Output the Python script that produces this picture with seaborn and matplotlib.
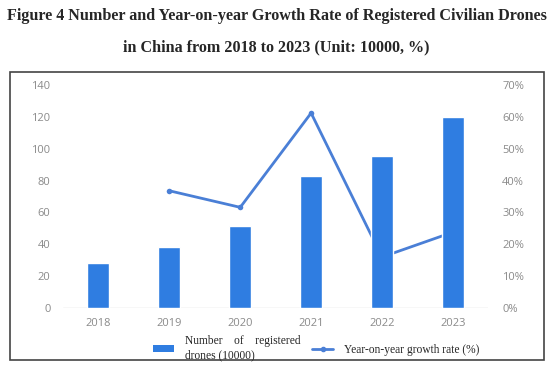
import numpy as np
import pandas as pd
import matplotlib
matplotlib.use("Agg")
import matplotlib.pyplot as plt
import seaborn as sns
from matplotlib.patches import Rectangle, Patch
from matplotlib.lines import Line2D
from matplotlib.ticker import PercentFormatter

years = ["2018", "2019", "2020", "2021", "2022", "2023"]
drones = [28.5, 38.5, 51.5, 83, 95.5, 120]
growth = [np.nan, 36.8, 31.6, 61.2, 16.0, 23.8]

title1 = "Figure 4 Number and Year-on-year Growth Rate of Registered Civilian Drones"
title2 = "in China from 2018 to 2023 (Unit: 10000, %)"
bar_label = "Number    of    registered\ndrones (10000)"
line_label = "Year-on-year growth rate (%)"

bar_color = "#2f7de1"
line_color = "#4a7fd6"
tick_color = "#8a8a8a"

df = pd.DataFrame({"year": years, "drones": drones, "growth": growth})
df["pos"] = np.arange(len(df))

sns.set_style("white")
fig = plt.figure(figsize=(5.53, 3.68), dpi=100)
ax = fig.add_axes([0.114, 0.163, 0.769, 0.606])
ax2 = ax.twinx()

sns.barplot(data=df, x="year", y="drones", color=bar_color, width=0.31,
            saturation=1, ax=ax)
sns.lineplot(data=df, x="pos", y="growth", color=line_color, linewidth=2,
             marker="o", markersize=4, markeredgewidth=0, ax=ax2)

# bars drawn over the line
ax.set_zorder(ax2.get_zorder() + 1)
ax.patch.set_visible(False)

ax.set_xlim(-0.5, 5.5)
ax.set_ylim(0, 140)
ax.set_yticks(range(0, 141, 20))
ax2.set_ylim(0, 70)
ax2.set_yticks(range(0, 71, 10))
ax2.yaxis.set_major_formatter(PercentFormatter(decimals=0))

for a in (ax, ax2):
    a.set_xlabel("")
    a.set_ylabel("")
    for s in a.spines.values():
        s.set_visible(False)
    a.tick_params(length=0, colors=tick_color, labelsize=8)
    for lab in a.get_xticklabels() + a.get_yticklabels():
        lab.set_family("Open Sans")
ax.tick_params(axis="y", pad=9)
ax2.tick_params(axis="y", pad=10)
ax.tick_params(axis="x", pad=7)
ax.axhline(0, color="#d9d9d9", linewidth=1, zorder=0)

fig.text(0.5, 1 - 16 / 368, title1, ha="center", va="center", fontsize=11.6,
         fontweight="bold", family="Liberation Serif")
fig.text(0.5, 1 - 47 / 368, title2, ha="center", va="center", fontsize=11.6,
         fontweight="bold", family="Liberation Serif")

fig.patches.append(Rectangle((10 / 553, 8 / 368), 534 / 553, 288 / 368,
                             transform=fig.transFigure, fill=False,
                             edgecolor="#444444", linewidth=1.2))

handles = [Patch(facecolor=bar_color, edgecolor="none"),
           Line2D([], [], color=line_color, linewidth=2, marker="o",
                  markersize=3)]
fig.legend(handles, [bar_label, line_label], loc="center",
           bbox_to_anchor=(0.572, 0.054), ncol=2, frameon=False,
           prop={"family": "Liberation Serif", "size": 8.3},
           handlelength=1.8, handleheight=0.5, columnspacing=1.0,
           handletextpad=1.0, labelspacing=0.2)

fig.savefig("out.png", dpi=100)
